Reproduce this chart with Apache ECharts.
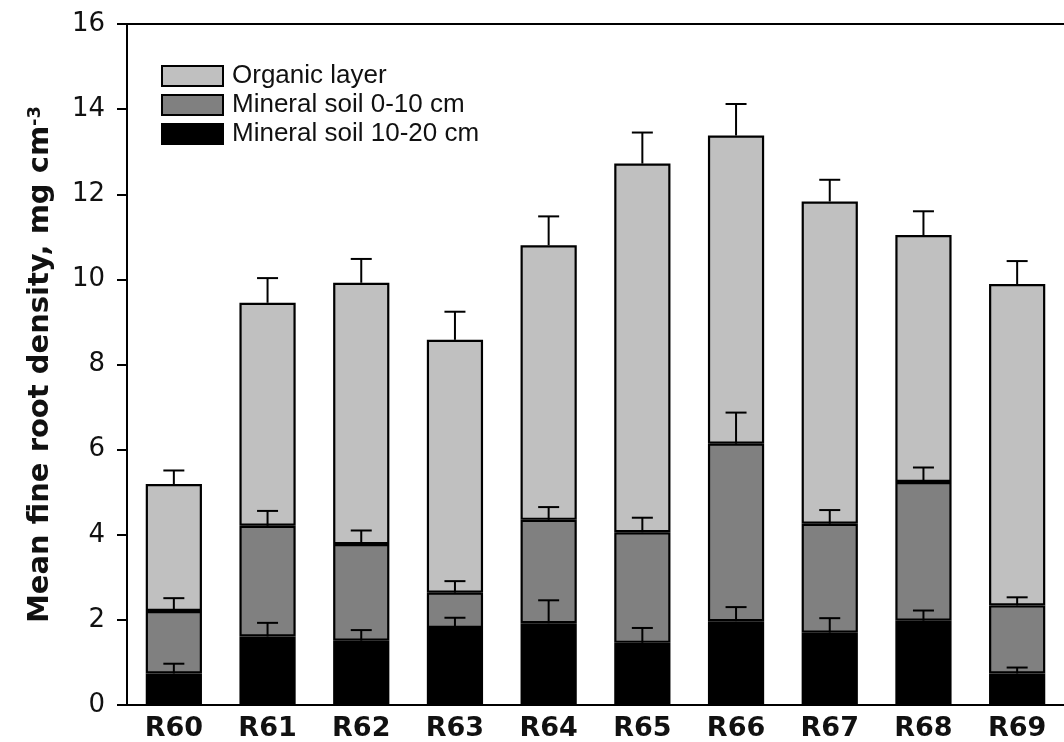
<!DOCTYPE html>
<html>
<head>
<meta charset="utf-8">
<script src="https://cdn.jsdelivr.net/npm/echarts@6/dist/echarts.min.js"></script>
<style>
html,body{margin:0;padding:0;background:#fff;}
#chart{width:1064px;height:742px;}
</style>
</head>
<body>
<div id="chart"></div>
<script>
// ---- data ----
const categories = ['R60','R61','R62','R63','R64','R65','R66','R67','R68','R69'];
const seriesNames = ['Organic layer','Mineral soil 0-10 cm','Mineral soil 10-20 cm'];
// segment values, mg cm-3
const mineral1020 = [0.74, 1.61, 1.51, 1.81, 1.92, 1.46, 1.97, 1.70, 1.98, 0.74];
const mineral010  = [1.47, 2.60, 2.27, 0.83, 2.43, 2.60, 4.17, 2.56, 3.26, 1.60];
const organic     = [2.98, 5.24, 6.14, 5.94, 6.45, 8.66, 7.24, 7.57, 5.80, 7.55];
// standard errors (upper bars only)
const err1020     = [0.23, 0.32, 0.25, 0.24, 0.54, 0.35, 0.33, 0.34, 0.24, 0.14];
const err010      = [0.30, 0.35, 0.32, 0.27, 0.30, 0.34, 0.73, 0.32, 0.34, 0.19];
const errOrganic  = [0.32, 0.58, 0.56, 0.66, 0.68, 0.73, 0.74, 0.51, 0.56, 0.54];
const yTicks = [0, 2, 4, 6, 8, 10, 12, 14, 16];

// ---- build ----
const colors = ['#c0c0c0', '#808080', '#000000'];
const cum1 = mineral1020.slice();
const cum2 = mineral010.map((v, i) => v + cum1[i]);
const cum3 = organic.map((v, i) => v + cum2[i]);
function errData(tops, errs) { return tops.map((t, i) => [i, t, errs[i]]); }

function renderErr(params, api) {
  const x = api.value(0), top = api.value(1), e = api.value(2);
  const p0 = api.coord([x, top]);
  const p1 = api.coord([x, top + e]);
  const hw = 10.5;
  return {
    type: 'group',
    children: [
      { type: 'line', shape: { x1: p0[0], y1: p0[1], x2: p1[0], y2: p1[1] }, style: { stroke: '#000', lineWidth: 2 } },
      { type: 'line', shape: { x1: p1[0] - hw, y1: p1[1], x2: p1[0] + hw, y2: p1[1] }, style: { stroke: '#000', lineWidth: 2 } }
    ]
  };
}

function barSeries(name, data, color) {
  return {
    name: name, type: 'bar', stack: 'total', data: data, barWidth: '60%',
    itemStyle: { color: color, borderColor: '#000', borderWidth: 2.2 },
    emphasis: { disabled: true }, animation: false
  };
}
function errSeries(data) {
  return {
    type: 'custom', renderItem: renderErr, data: data, z: 10,
    encode: { x: 0, y: 1 }, animation: false, silent: true
  };
}

const chart = echarts.init(document.getElementById('chart'), null, { renderer: 'canvas' });
chart.setOption({
  backgroundColor: '#fff',
  animation: false,
  legend: {
    data: seriesNames,
    orient: 'vertical',
    left: 156, top: 58,
    itemWidth: 61, itemHeight: 20, itemGap: 3,
    icon: 'rect',
    selectedMode: false,
    textStyle: { fontFamily: '"Liberation Sans", Arial, sans-serif', fontSize: 26, color: '#111', padding: [0, 0, 0, 4] }
  },
  grid: { left: 127, top: 24, width: 944, height: 681, containLabel: false },
  xAxis: [{
    type: 'category', data: categories, position: 'bottom',
    axisLine: { show: true, lineStyle: { color: '#000', width: 2 } },
    axisTick: { show: false },
    axisLabel: { fontFamily: '"DejaVu Sans", sans-serif', fontWeight: 'bold', fontSize: 27, color: '#111', margin: 10 }
  }, {
    type: 'category', data: categories, position: 'top',
    axisLine: { show: true, lineStyle: { color: '#000', width: 2 } },
    axisTick: { show: false }, axisLabel: { show: false }
  }],
  yAxis: {
    type: 'value', min: 0, max: 16, interval: 2,
    name: '{a|Mean fine root density, mg cm}{b|-3}',
    nameLocation: 'middle', nameGap: 72, nameRotate: 90,
    nameTextStyle: {
      fontFamily: '"DejaVu Sans", sans-serif', fontWeight: 'bold', fontSize: 29, color: '#111',
      rich: {
        a: { fontFamily: '"DejaVu Sans", sans-serif', fontWeight: 'bold', fontSize: 29, color: '#111' },
        b: { fontFamily: '"DejaVu Sans", sans-serif', fontWeight: 'bold', fontSize: 18, color: '#111', verticalAlign: 'top' }
      }
    },
    axisLine: { show: true, lineStyle: { color: '#000', width: 2 } },
    axisTick: { show: true, inside: false, length: 10, lineStyle: { color: '#000', width: 2 } },
    splitLine: { show: false },
    axisLabel: {
      fontFamily: '"DejaVu Sans", sans-serif', fontSize: 26, color: '#111', margin: 22,
      formatter: v => (yTicks.indexOf(v) >= 0 ? String(v) : '')
    }
  },
  series: [
    barSeries(seriesNames[2], mineral1020, colors[2]),
    barSeries(seriesNames[1], mineral010, colors[1]),
    barSeries(seriesNames[0], organic, colors[0]),
    errSeries(errData(cum1, err1020)),
    errSeries(errData(cum2, err010)),
    errSeries(errData(cum3, errOrganic))
  ]
});
</script>
</body>
</html>
